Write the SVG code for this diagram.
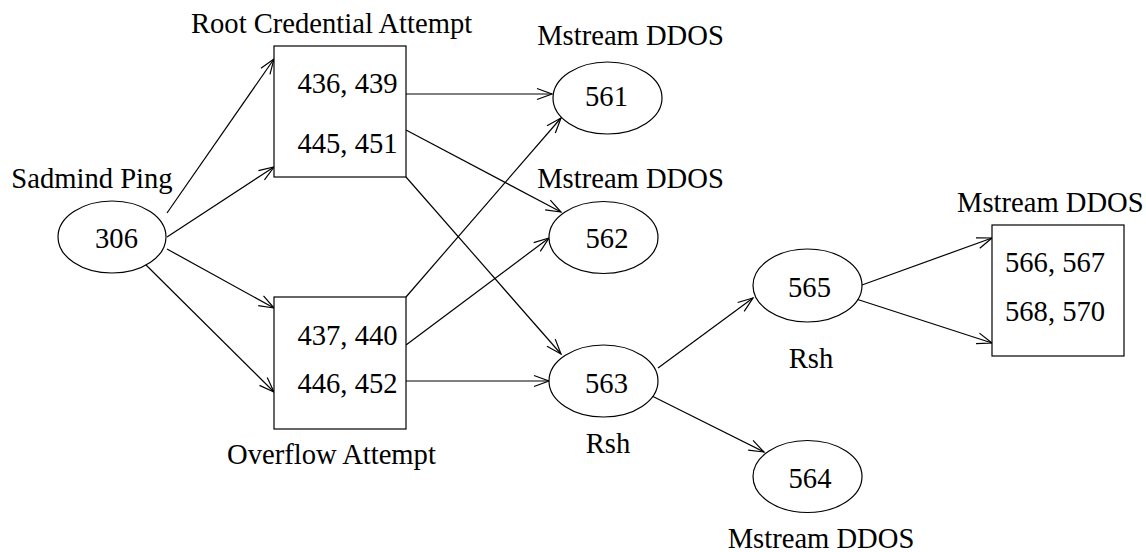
<svg xmlns="http://www.w3.org/2000/svg" width="1146" height="552" viewBox="0 0 1146 552">
<style>
text{font-family:"Liberation Serif","Times New Roman",serif;font-size:28.6px;fill:#000}
.m{text-anchor:middle}
.shape{fill:#fff;stroke:#000;stroke-width:1.2}
.edge{fill:none;stroke:#000;stroke-width:1.2;marker-end:url(#arr)}
</style>
<defs>
<marker id="arr" markerUnits="userSpaceOnUse" markerWidth="20" markerHeight="14" viewBox="0 0 20 14" refX="16" refY="7" orient="auto">
<path d="M1,1.5 L16,7 L1,12.5" fill="none" stroke="#000" stroke-width="1.2"/>
</marker>
</defs>
<rect width="1146" height="552" fill="#fff"/>
<g id="connectors">
<line class="edge" x1="167" y1="213" x2="274" y2="59"/>
<line class="edge" x1="167" y1="237" x2="274" y2="167"/>
<line class="edge" x1="167" y1="249" x2="274" y2="308"/>
<line class="edge" x1="143" y1="262" x2="274" y2="392"/>
<line class="edge" x1="406" y1="94" x2="552" y2="94"/>
<line class="edge" x1="406" y1="130" x2="561" y2="212"/>
<line class="edge" x1="406" y1="177" x2="561" y2="354"/>
<line class="edge" x1="406" y1="297" x2="561" y2="118"/>
<line class="edge" x1="406" y1="345" x2="549" y2="238"/>
<line class="edge" x1="406" y1="381" x2="549" y2="381"/>
<line class="edge" x1="658" y1="368" x2="753" y2="298"/>
<line class="edge" x1="646" y1="393" x2="764" y2="452"/>
<line class="edge" x1="862" y1="285" x2="992" y2="238"/>
<line class="edge" x1="850" y1="297" x2="992" y2="343"/>
</g>
<g id="n306">
<ellipse class="shape" cx="112" cy="237" rx="54" ry="36"/>
<text class="m" x="116.5" y="248">306</text>
<text class="m" x="92" y="188">Sadmind Ping</text>
</g>
<g id="root">
<rect class="shape" x="274" y="46" width="132" height="131"/>
<text class="m" x="347.5" y="93">436, 439</text>
<text class="m" x="347.5" y="153">445, 451</text>
<text x="191" y="33">Root Credential Attempt</text>
</g>
<g id="overflow">
<rect class="shape" x="274" y="297" width="132" height="132"/>
<text class="m" x="347.5" y="345">437, 440</text>
<text class="m" x="347.5" y="393">446, 452</text>
<text x="227" y="464">Overflow Attempt</text>
</g>
<g id="n561">
<ellipse class="shape" cx="607.5" cy="98" rx="54.5" ry="36"/>
<text class="m" x="606.5" y="106">561</text>
<text class="m" x="630.5" y="45">Mstream DDOS</text>
</g>
<g id="n562">
<ellipse class="shape" cx="603.5" cy="237.5" rx="54.5" ry="36"/>
<text class="m" x="607" y="248">562</text>
<text class="m" x="630.5" y="188">Mstream DDOS</text>
</g>
<g id="n563">
<ellipse class="shape" cx="603.5" cy="381" rx="54.5" ry="36"/>
<text class="m" x="606.5" y="393">563</text>
<text class="m" x="608" y="453">Rsh</text>
</g>
<g id="n565">
<ellipse class="shape" cx="807.5" cy="285.5" rx="54.5" ry="36.5"/>
<text class="m" x="809.5" y="297">565</text>
<text class="m" x="811" y="368">Rsh</text>
</g>
<g id="n564">
<ellipse class="shape" cx="807.5" cy="476.5" rx="54.5" ry="36"/>
<text class="m" x="810" y="488">564</text>
<text class="m" x="821" y="548">Mstream DDOS</text>
</g>
<g id="mstreamBox">
<rect class="shape" x="992" y="225" width="132" height="131"/>
<text x="1005" y="272">566, 567</text>
<text x="1005" y="321">568, 570</text>
<text x="957" y="212">Mstream DDOS</text>
</g>
</svg>
